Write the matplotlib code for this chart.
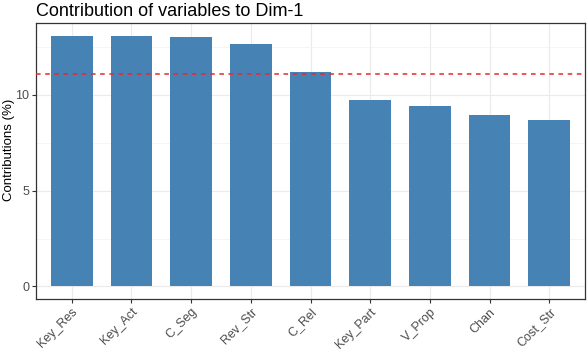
import numpy as np
from matplotlib import pyplot as plt

variables = ['Key_Res', 'Key_Act', 'C_Seg', 'Rev_Str', 'C_Rel',
             'Key_Part', 'V_Prop', 'Chan', 'Cost_Str']
contrib = [13.10, 13.06, 13.00, 12.66, 11.20, 9.74, 9.43, 8.96, 8.70]
y_ticks = [0, 5, 10]

plt.rcParams['font.family'] = ['Liberation Sans', 'DejaVu Sans']

fig = plt.figure(figsize=(5.88, 3.52), dpi=100)
ax = fig.add_axes([0.0612, 0.1506, 0.9338, 0.7841])

x = np.arange(len(variables))
ax.bar(x, contrib, width=0.7, color='steelblue', zorder=2)

# expected average contribution
ax.axhline(100 / len(variables), color='#e8272b', linestyle=(0, (3, 3)),
           linewidth=1.1, zorder=3)

top = max(contrib)
ax.set_xlim(-0.6, len(variables) - 0.4)
ax.set_ylim(-0.05 * top, top * 1.05)

ax.set_xticks(x)
ax.set_xticklabels(variables, rotation=45, ha='right', rotation_mode='anchor',
                   fontsize=9, color='#4d4d4d')
ax.set_yticks(y_ticks)
ax.set_yticks([2.5, 7.5, 12.5], minor=True)
ax.tick_params(axis='y', which='major', labelsize=9, labelcolor='#4d4d4d',
               length=3, color='#333333', pad=2)
ax.tick_params(axis='y', which='minor', length=0)
ax.tick_params(axis='x', length=3, color='#333333', pad=2)

ax.grid(True, which='major', color='#ebebeb', linewidth=0.8, zorder=0)
ax.grid(True, which='minor', axis='y', color='#f2f2f2', linewidth=0.5, zorder=0)
ax.set_axisbelow(True)
for s in ax.spines.values():
    s.set_color('#333333')
    s.set_linewidth(0.9)

ax.set_ylabel('Contributions (%)', fontsize=9.5)
ax.yaxis.set_label_coords(-0.039, 0.54)
ax.set_title('Contribution of variables to Dim-1', fontsize=13, loc='left',
             pad=5)

plt.savefig('out.png', dpi=100)
plt.close()
